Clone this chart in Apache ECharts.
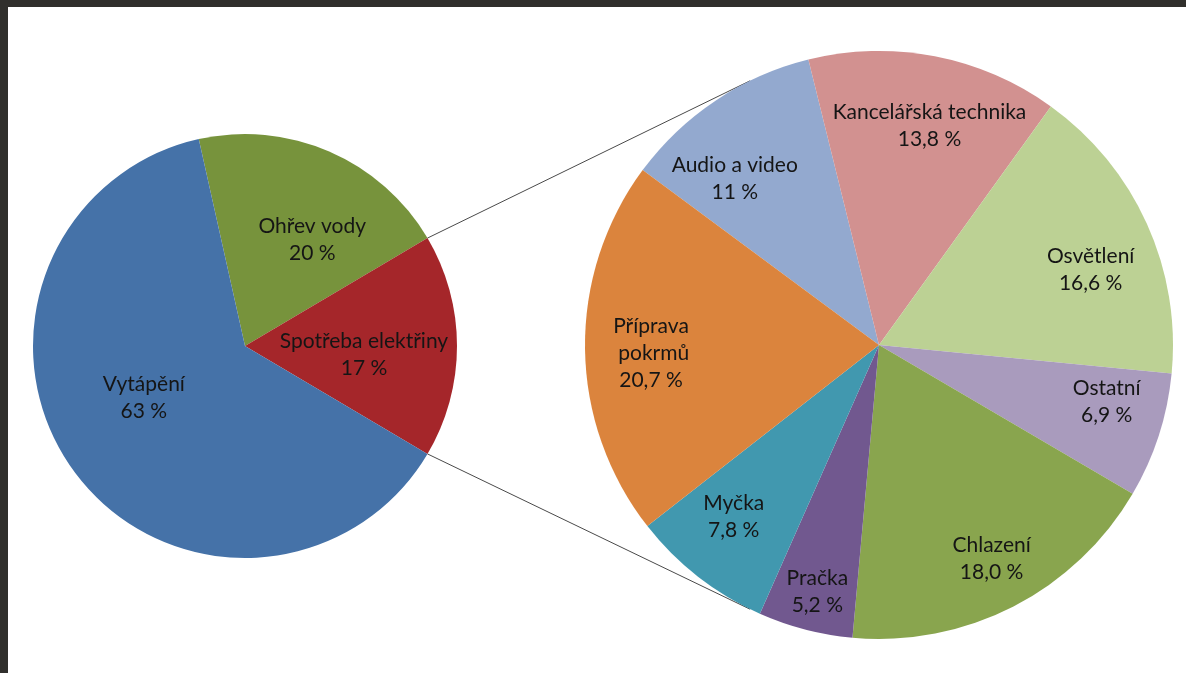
<!DOCTYPE html>
<html lang="cs">
<head>
<meta charset="utf-8">
<title>Spotřeba energie v domácnosti</title>
<script src="https://cdn.jsdelivr.net/npm/echarts@6/dist/echarts.min.js"></script>
<style>
  html, body { margin: 0; padding: 0; background: #302f2c; }
  #chart { position: absolute; left: 8px; top: 7px; width: 1178px; height: 666px; background: #ffffff; }
</style>
</head>
<body>
<div id="chart"></div>
<script>
// Main breakdown (clockwise from the top-left edge of the green slice)
const mainNames = ['Ohřev vody', 'Spotřeba elektřiny', 'Vytápění'];
const mainPercent = ['20', '17', '63'];
// Breakdown of electricity consumption (clockwise)
const detailNames = ['Audio a video', 'Kancelářská technika', 'Osvětlení', 'Ostatní',
                     'Chlazení', 'Pračka', 'Myčka', 'Příprava pokrmů'];
const detailPercent = ['11', '13,8', '16,6', '6,9', '18,0', '5,2', '7,8', '20,7'];

const toNum = s => parseFloat(s.replace(',', '.'));
const mainValues = mainPercent.map(toNum);
const detailValues = detailPercent.map(toNum);

const mainColors = ['#77933c', '#a5262a', '#4572a8'];
const detailColors = ['#93a9cf', '#d29190', '#bcd194', '#a99bbd',
                      '#89a54e', '#71588f', '#4198af', '#db843d'];

// Layout (chart-local pixels)
const mainCenter = [237, 339], mainR = 212;
const detailCenter = [871, 338], detailR = 294;
const detailStart = 143.5;
const connectorAngle = 116;   // where the connector lines meet the detail pie
const splitIndex = 1;         // slice of the main pie that is broken out

// Main pie rotated so the split slice is centred on the right-hand side
const mainTotal = mainValues.reduce((a, b) => a + b, 0);
const before = mainValues.slice(0, splitIndex).reduce((a, b) => a + b, 0);
const mainStart = 360 * (before + mainValues[splitIndex] / 2) / mainTotal;
const halfSplit = 180 * mainValues[splitIndex] / mainTotal;

// Label nudges from the default inside position
const mainNudge = [[24, -6], [10, 9], [-13, -12]];
const detailNudge = [[-61, -41], [22, -72], [75, -13], [85, 10],
                     [44, 80], [-24, 102], [-53, 53], [-78, 6]];

const labelBase = {
  show: true, position: 'inside', fontFamily: 'Lato, "Open Sans", sans-serif',
  fontSize: 21, lineHeight: 27, color: '#151515', fontWeight: 'normal'
};

function polar(c, r, deg) {
  const a = deg * Math.PI / 180;
  return [c[0] + r * Math.cos(a), c[1] - r * Math.sin(a)];
}

const p1 = polar(mainCenter, mainR, halfSplit);
const p2 = polar(mainCenter, mainR, -halfSplit);
const q1 = polar(detailCenter, detailR, connectorAngle);
const q2 = polar(detailCenter, detailR, -connectorAngle);

const chart = echarts.init(document.getElementById('chart'), null, { renderer: 'canvas' });
chart.setOption({
  animation: false,
  backgroundColor: '#ffffff',
  graphic: [
    { type: 'line', z: 0, shape: { x1: p1[0], y1: p1[1], x2: q1[0], y2: q1[1] },
      style: { stroke: '#4a4a4a', lineWidth: 1 } },
    { type: 'line', z: 0, shape: { x1: p2[0], y1: p2[1], x2: q2[0], y2: q2[1] },
      style: { stroke: '#4a4a4a', lineWidth: 1 } }
  ],
  series: [
    {
      type: 'pie', z: 2,
      center: mainCenter, radius: mainR,
      startAngle: mainStart, clockwise: true,
      avoidLabelOverlap: false, silent: true,
      label: Object.assign({}, labelBase, {
        formatter: p => p.name + '\n' + mainPercent[p.dataIndex] + ' %'
      }),
      labelLine: { show: false },
      labelLayout: p => ({ dx: mainNudge[p.dataIndex][0], dy: mainNudge[p.dataIndex][1] }),
      itemStyle: { borderWidth: 0 },
      emphasis: { disabled: true },
      data: mainNames.map((n, i) => ({ name: n, value: mainValues[i], itemStyle: { color: mainColors[i] } }))
    },
    {
      type: 'pie', z: 2,
      center: detailCenter, radius: detailR,
      startAngle: detailStart, clockwise: true,
      avoidLabelOverlap: false, silent: true,
      label: Object.assign({}, labelBase, {
        formatter: p => p.name + '\n' + detailPercent[p.dataIndex] + ' %'
      }),
      labelLine: { show: false },
      labelLayout: p => ({ dx: detailNudge[p.dataIndex][0], dy: detailNudge[p.dataIndex][1] }),
      itemStyle: { borderWidth: 0 },
      emphasis: { disabled: true },
      data: detailNames.map((n, i) => ({
        name: n, value: detailValues[i],
        itemStyle: { color: detailColors[i] },
        label: n === 'Příprava pokrmů' ? { width: 110, overflow: 'break' } : undefined
      }))
    }
  ]
});
</script>
</body>
</html>
